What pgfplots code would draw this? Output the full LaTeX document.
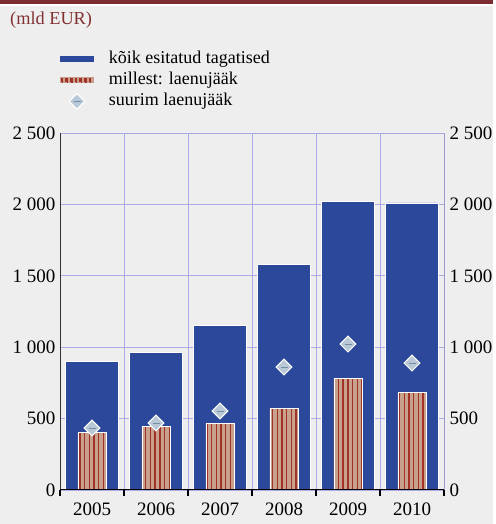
\documentclass[border=0pt]{standalone}
\usepackage{fontspec}
\setmainfont{Liberation Serif}
\usepackage{pgfplots}
\pgfplotsset{compat=1.18}
\usetikzlibrary{patterns.meta}
\definecolor{bgcol}{RGB}{238,238,238}
\definecolor{topred}{RGB}{123,45,50}
\definecolor{unitred}{RGB}{130,50,50}
\definecolor{barblue}{RGB}{44,72,155}
\definecolor{bartan}{RGB}{200,160,140}
\definecolor{stripered}{RGB}{160,50,40}
\definecolor{gridcol}{RGB}{170,170,228}
\definecolor{diafill}{RGB}{184,200,214}
\definecolor{dialine}{RGB}{120,140,165}
\begin{document}
\begin{tikzpicture}[x=1pt,y=1pt]
\fill[bgcol] (0,0) rectangle (493,524);
\fill[topred] (0,520) rectangle (493,524);
\fill[white] (0,518) rectangle (493,520);
\node[anchor=west, text=unitred, font=\fontsize{18.3}{21}\selectfont, inner sep=0pt] at (10,503.5) {(mld EUR)};
\begin{axis}[
  at={(60pt,34pt)}, anchor=south west,
  scale only axis, width=384pt, height=357pt,
  xmin=-0.5, xmax=5.5, ymin=0, ymax=2500,
  xtick={0,...,5}, xticklabels={2005,2006,2007,2008,2009,2010},
  minor xtick={-0.5,0.5,...,5.5},
  xminorgrids, ytick={0,500,...,2500}, ymajorgrids,
  grid style={gridcol, line width=0.8pt},
  minor grid style={gridcol, line width=0.8pt},
  axis line style={draw=none},
  tick align=outside,
  major tick length=0pt, minor tick length=6pt,
  minor x tick style={black, line width=1.2pt},
  xtick pos=bottom, ytick pos=left,
  ytick style={draw=none},
  tick label style={font=\fontsize{19}{22}\selectfont},
  /pgf/number format/assume math mode=true,
  /pgf/number format/1000 sep={\ },
  xticklabel style={yshift=-9pt},
  yticklabel style={xshift=-1pt},
  legend style={draw=none, fill=none, at={(0,1.23)}, anchor=north west,
    inner xsep=0pt, inner ysep=0pt, row sep=5pt,
    font=\fontsize{18}{21}\selectfont,
    nodes={inner sep=0pt, text height=12pt, text depth=4pt},
    /tikz/every odd column/.append style={column sep=15pt}},
  legend cell align=left,
]
\addplot[ybar, bar width=0.82, bar shift=0pt, fill=barblue, draw=white, line width=0.6pt,
  legend image code/.code={\fill[barblue] (0pt,-2.5pt) rectangle (33pt,2.5pt);}]
  coordinates {(0,903) (1,966) (2,1155) (3,1582) (4,2023) (5,2010)};
\addlegendentry{kõik esitatud tagatised}
\addplot[ybar, bar width=0.44, bar shift=0pt, fill=bartan, draw=white, line width=0.6pt,
  postaction={pattern={Lines[angle=90,distance=4.7pt,line width=1.4pt]}, pattern color=stripered},
  legend image code/.code={\fill[bartan] (0pt,-2.5pt) rectangle (33pt,2.5pt);
    \foreach \i in {2,6.7,...,33}{\draw[stripered, line width=1.2pt] (\i pt,-2.5pt) -- (\i pt,2.5pt);}}]
  coordinates {(0,406) (1,448) (2,469) (3,574) (4,784) (5,686)};
\addlegendentry{millest: laenujääk}
\addplot[only marks, mark=square*, mark size=5.6pt,
  mark options={rotate=45, fill=diafill, draw=white, line width=1pt},
  legend image code/.code={\draw[fill=diafill, draw=white, line width=1pt, rotate around={45:(16.5pt,0pt)}] (11pt,-5.5pt) rectangle (22pt,5.5pt);
    \draw[dialine, line width=1pt] (13pt,0pt) -- (20pt,0pt);}]
  coordinates {(0,434) (1,469) (2,553) (3,861) (4,1022) (5,889)};
\addlegendentry{suurim laenujääk}
\addplot[only marks, mark=-, mark size=3.5pt, mark options={draw=dialine, line width=1pt}, forget plot]
  coordinates {(0,434) (1,469) (2,553) (3,861) (4,1022) (5,889)};
\draw[black!80, line width=1pt] (rel axis cs:0,0) -- (rel axis cs:0,1);
\draw[black!80, line width=1pt] (rel axis cs:1,0) -- (rel axis cs:1,1);
\draw[black, line width=1.2pt] (rel axis cs:0,0) -- (rel axis cs:1,0);
\end{axis}
\begin{axis}[
  at={(60pt,34pt)}, anchor=south west,
  scale only axis, width=384pt, height=357pt,
  xmin=-0.5, xmax=5.5, ymin=0, ymax=2500,
  hide x axis, axis line style={draw=none},
  ytick={0,500,...,2500}, ytick pos=right, yticklabel pos=right,
  ytick style={draw=none}, major tick length=0pt,
  tick label style={font=\fontsize{19}{22}\selectfont},
  /pgf/number format/assume math mode=true,
  /pgf/number format/1000 sep={\ },
  yticklabel style={xshift=2pt},
]
\addplot[draw=none, forget plot] coordinates {(0,0)};
\end{axis}
\end{tikzpicture}
\end{document}
